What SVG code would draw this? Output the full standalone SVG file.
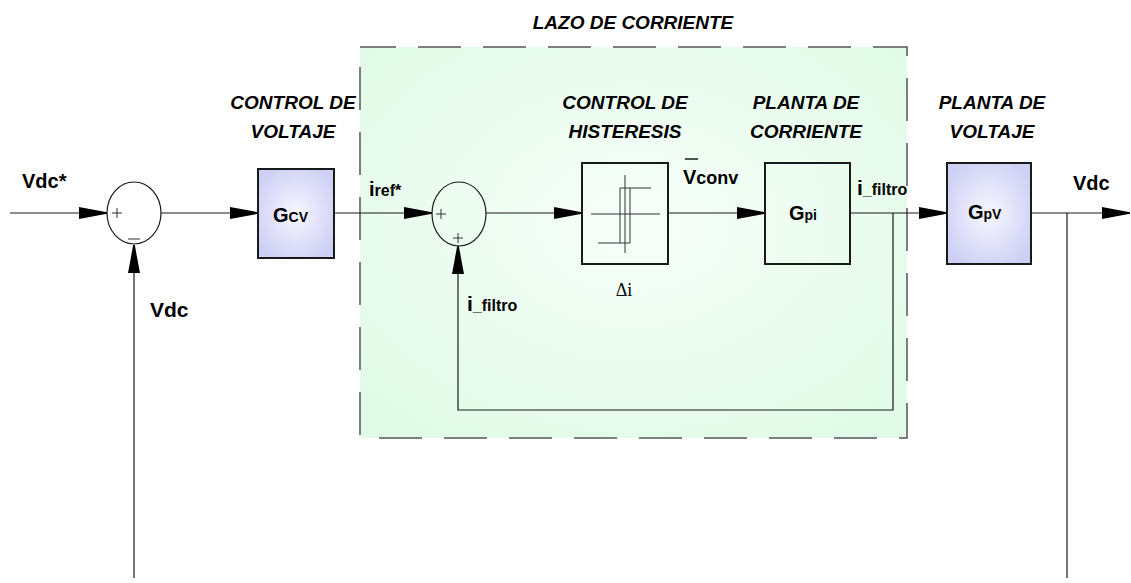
<svg xmlns="http://www.w3.org/2000/svg" width="1131" height="583" viewBox="0 0 1131 583">
<style>
.t{font-family:"Liberation Sans",Arial,sans-serif;font-weight:bold;fill:#000}
.ti{font-family:"Liberation Sans",Arial,sans-serif;font-weight:bold;font-style:italic;font-size:19px;fill:#000;text-anchor:middle}
.ln{fill:none;stroke:#1a1a1a;stroke-width:1.2}
.la{fill:none;stroke:#1a1a1a;stroke-width:1.2;marker-end:url(#ah)}
.blk{fill:none;stroke:#1a1a1a;stroke-width:2}
.sum{fill:none;stroke:#1a1a1a;stroke-width:1.2}
.sg{fill:none;stroke:#333;stroke-width:1}
</style>
<defs>
<marker id="ah" markerUnits="userSpaceOnUse" markerWidth="28" markerHeight="12" viewBox="0 0 28 12" refX="28" refY="6" orient="auto">
<path d="M0,0 L28,5.2 L28,6.8 L0,12 Z" fill="#000"/>
</marker>
<radialGradient id="gGreen" cx="50%" cy="45%" r="65%">
<stop offset="0" stop-color="#f7fef9"/>
<stop offset="1" stop-color="#e2fbe8"/>
</radialGradient>
<radialGradient id="gBlue" cx="50%" cy="50%" r="60%">
<stop offset="0" stop-color="#f7f7ff"/>
<stop offset="1" stop-color="#cdcff4"/>
</radialGradient>
</defs>
<rect width="1131" height="583" fill="#fff"/>
<g id="lazo-corriente">
<rect x="360" y="47" width="547" height="391" fill="url(#gGreen)" stroke="#555" stroke-width="1.5" stroke-dasharray="43 22" stroke-dashoffset="7"/>
<text class="ti" x="633" y="29">LAZO DE CORRIENTE</text>
</g>
<g id="connectors">
<line class="la" x1="10" y1="213" x2="107" y2="213"/>
<line class="la" x1="134" y1="578" x2="134" y2="245"/>
<line class="la" x1="161" y1="213" x2="258" y2="213"/>
<line class="la" x1="334" y1="213" x2="432" y2="213"/>
<line class="la" x1="486" y1="213" x2="582" y2="213"/>
<line class="la" x1="668" y1="213" x2="765" y2="213"/>
<line class="la" x1="850" y1="213" x2="947" y2="213"/>
<line class="la" x1="1031" y1="213" x2="1130" y2="213"/>
<line class="ln" x1="1067" y1="213" x2="1067" y2="578"/>
<polyline class="la" points="893,213 893,410 458,410 458,246"/>
</g>
<g id="sum1">
<ellipse class="sum" cx="134" cy="213" rx="27" ry="31"/>
<path class="sg" d="M112,213 H122 M117,208 V218 M128,239 H140"/>
</g>
<g id="sum2">
<ellipse class="sum" cx="459" cy="214" rx="27" ry="32"/>
<path class="sg" d="M436,214 H446 M441,209 V219 M453,238 H463 M458,233 V243"/>
</g>
<g id="gcv">
<rect x="258" y="169" width="76" height="89" fill="url(#gBlue)" stroke="#1a1a1a" stroke-width="2"/>
<text class="t" x="273" y="222" font-size="20">G<tspan font-size="14">CV</tspan></text>
<text class="ti" x="293" y="109">CONTROL DE</text>
<text class="ti" x="293" y="138">VOLTAJE</text>
</g>
<g id="histeresis">
<rect class="blk" x="582" y="163" width="86" height="101"/>
<path class="sg" d="M591,214 H660 M625,175 V253 M651,188 H620 V243 M598,243 H630 V188"/>
<text x="624" y="296" font-family="Liberation Serif,serif" font-size="18" text-anchor="middle">Δi</text>
<text class="ti" x="625" y="109">CONTROL DE</text>
<text class="ti" x="625" y="138">HISTERESIS</text>
</g>
<g id="gpi">
<rect class="blk" x="765" y="163" width="85" height="101"/>
<text class="t" x="789" y="220" font-size="20">G<tspan font-size="14">pi</tspan></text>
<text class="ti" x="806" y="109">PLANTA DE</text>
<text class="ti" x="806" y="138">CORRIENTE</text>
</g>
<g id="gpv">
<rect x="947" y="163" width="84" height="101" fill="url(#gBlue)" stroke="#1a1a1a" stroke-width="2"/>
<text class="t" x="968" y="219" font-size="20">G<tspan font-size="14">pV</tspan></text>
<text class="ti" x="992" y="109">PLANTA DE</text>
<text class="ti" x="992" y="138">VOLTAJE</text>
</g>
<g id="labels">
<text class="t" x="22" y="188" font-size="20">Vdc*</text>
<text class="t" x="150" y="317" font-size="21">Vdc</text>
<text class="t" x="1073" y="190" font-size="20">Vdc</text>
<text class="t" x="369" y="196" font-size="20">i<tspan font-size="16">ref*</tspan></text>
<text class="t" x="467" y="311" font-size="21">i<tspan font-size="16">_filtro</tspan></text>
<text class="t" x="857" y="195" font-size="21">i<tspan font-size="16">_filtro</tspan></text>
<text class="t" x="683" y="184" font-size="20">V<tspan font-size="18">conv</tspan></text>
<line x1="685" y1="159" x2="698" y2="159" stroke="#1a1a1a" stroke-width="1.5"/>
</g>
</svg>
